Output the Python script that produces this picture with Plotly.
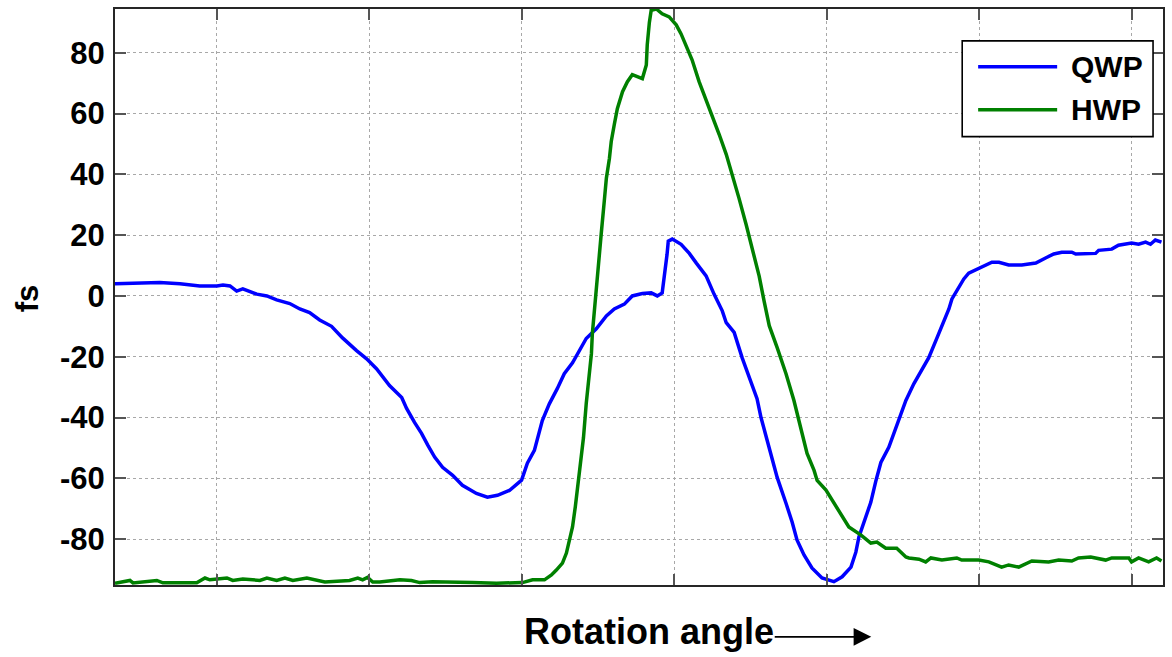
import plotly.graph_objects as go

# Rotation angle samples (arbitrary angular units) and measured fs for each waveplate
qwp_angle = [
    16.6, 31.3, 37.9, 44.4, 50.0, 52.0, 54.3, 56.5, 58.5, 63.1,
    66.4, 69.6, 73.9, 77.2, 80.4, 83.7, 87.6, 91.2, 95.8, 99.1,
    102.4, 106.6, 110.6, 112.2, 114.8, 117.1, 119.1, 121.4, 124.0, 127.3,
    130.5, 135.1, 138.7, 142.0, 145.9, 149.9, 151.8, 154.1, 156.7, 159.0,
    161.6, 163.9, 166.6, 168.8, 171.1, 174.4, 177.7, 180.3, 183.6, 186.2,
    189.5, 192.4, 194.4, 196.0, 196.7, 197.6, 198.0, 199.3, 202.2, 204.9,
    207.2, 210.4, 213.0, 215.7, 217.0, 219.6, 222.2, 225.2, 227.1, 228.4,
    231.1, 233.7, 236.6, 238.6, 240.2, 242.5, 245.1, 248.4, 252.3, 255.0,
    257.9, 259.5, 260.5, 262.2, 264.4, 266.1, 267.7, 270.3, 273.0, 275.9,
    278.5, 281.1, 283.4, 286.1, 287.4, 289.0, 290.0, 291.0, 292.6, 294.9,
    296.5, 299.8, 304.1, 306.4, 309.6, 313.9, 318.5, 321.7, 324.4, 327.0,
    330.3, 331.6, 335.8, 338.1, 339.1, 343.4, 345.6, 349.9, 352.2, 354.5,
    356.1, 357.7, 359.7,
]
qwp_fs = [
    4.0, 4.4, 4.0, 3.3, 3.3, 3.6, 3.3, 1.6, 2.3, 0.6,
    0.0, -1.3, -2.5, -4.3, -5.5, -7.9, -10.0, -13.8, -18.0, -20.7,
    -24.0, -29.5, -33.4, -37.0, -41.6, -45.2, -49.0, -53.0, -56.4, -59.0,
    -62.3, -65.0, -66.2, -65.6, -64.0, -60.6, -55.0, -50.8, -41.0, -35.5,
    -30.5, -25.6, -22.0, -18.0, -14.0, -10.8, -6.6, -4.3, -2.7, 0.0,
    0.8, 1.0, 0.0, 1.0, 6.0, 13.7, 18.0, 18.7, 17.0, 14.0,
    10.8, 6.6, 0.6, -4.9, -8.8, -12.0, -20.3, -29.0, -33.8, -40.0,
    -49.8, -59.7, -68.2, -74.4, -80.3, -85.2, -89.5, -92.8, -94.0, -92.4,
    -89.2, -84.3, -79.3, -74.4, -67.9, -60.7, -54.8, -49.8, -42.0, -34.4,
    -28.9, -24.6, -20.3, -13.8, -10.5, -7.2, -4.3, -1.0, 1.6, 5.6,
    7.5, 9.2, 11.1, 11.1, 10.2, 10.2, 10.8, 12.5, 13.8, 14.4,
    14.4, 13.8, 14.0, 14.0, 15.0, 15.4, 16.7, 17.4, 17.0, 17.7,
    17.0, 18.4, 17.7,
]

hwp_angle = [
    16.6, 21.5, 22.5, 30.3, 32.3, 43.4, 46.1, 47.7, 53.3, 55.2,
    58.5, 64.1, 66.4, 69.6, 72.3, 74.9, 79.5, 82.7, 85.4, 93.5,
    96.2, 97.8, 99.4, 101.1, 103.4, 110.0, 113.8, 116.5, 120.7, 133.8,
    141.7, 150.2, 153.5, 157.4, 159.7, 161.3, 163.3, 164.6, 165.6, 166.6,
    167.5, 168.5, 169.5, 170.2, 171.1, 171.8, 172.8, 173.1, 174.4, 175.4,
    176.0, 177.0, 177.7, 178.7, 179.3, 180.3, 181.3, 183.0, 184.6, 186.2,
    187.8, 189.5, 190.8, 191.1, 191.8, 192.4, 194.1, 196.0, 198.3, 200.6,
    202.2, 204.2, 205.8, 208.1, 210.4, 212.4, 214.7, 217.0, 219.0, 221.2,
    223.5, 225.5, 227.8, 229.4, 231.1, 233.7, 236.6, 239.2, 241.5, 243.5,
    245.8, 246.8, 249.7, 252.3, 255.0, 257.2, 261.2, 264.4, 266.4, 269.3,
    272.9, 275.9, 276.9, 280.2, 282.4, 284.1, 287.7, 292.6, 294.2, 299.8,
    303.1, 307.3, 309.6, 312.9, 317.2, 322.7, 326.0, 330.3, 332.5, 336.5,
    341.4, 343.4, 349.0, 349.9, 352.2, 355.5, 358.1, 359.7,
]
hwp_fs = [
    -94.5, -93.6, -94.4, -93.6, -94.4, -94.4, -92.8, -93.4, -92.8, -93.6,
    -93.1, -93.6, -92.8, -93.6, -92.8, -93.6, -92.8, -93.6, -94.1, -93.6,
    -92.8, -93.4, -92.6, -94.1, -94.1, -93.4, -93.6, -94.3, -94.0, -94.3,
    -94.5, -94.3, -93.4, -93.4, -91.8, -90.2, -87.9, -84.6, -80.3, -76.0,
    -69.5, -60.7, -53.0, -46.6, -35.4, -28.9, -19.0, -12.5, 1.0, 11.5,
    20.3, 31.0, 38.7, 45.2, 50.8, 56.4, 61.6, 67.2, 70.5, 72.8,
    72.1, 71.5, 76.0, 82.6, 90.0, 94.0, 94.4, 92.8, 91.8, 89.2,
    86.2, 81.3, 77.7, 70.5, 64.6, 59.7, 53.1, 46.6, 40.0, 32.1,
    23.6, 15.7, 6.5, -1.6, -9.8, -17.0, -25.6, -34.4, -44.3, -51.8,
    -57.4, -60.7, -63.9, -68.2, -72.8, -76.0, -78.7, -81.3, -81.0, -83.0,
    -83.0, -85.9, -86.2, -86.6, -87.5, -86.2, -86.9, -86.2, -86.9, -86.9,
    -87.5, -89.2, -88.5, -89.2, -87.2, -87.5, -86.9, -87.2, -86.2, -85.9,
    -86.9, -86.2, -86.2, -87.5, -86.2, -87.5, -86.2, -87.2,
]

assert len(qwp_angle) == len(qwp_fs)
assert len(hwp_angle) == len(hwp_fs)

series_names = ["QWP", "HWP"]
series_colors = ["#0000ff", "#008000"]

x_range = [16.6, 360.2]
y_range = [-95.1, 94.4]
y_ticks = [-80, -60, -40, -20, 0, 20, 40, 60, 80]
y_tick_labels = ["-80", "-60", "-40", "-20", "0", "20", "40", "60", "80"]

FONT = "Liberation Sans, Arial, Helvetica, sans-serif"
AXIS_COLOR = "#262626"

fig = go.Figure()
for name, color, xs, ys in zip(series_names, series_colors,
                               [qwp_angle, hwp_angle], [qwp_fs, hwp_fs]):
    fig.add_trace(go.Scatter(x=xs, y=ys, mode="lines", name=name,
                             line=dict(color=color, width=3.5),
                             showlegend=False))

fig.update_layout(
    width=1172, height=657,
    margin=dict(l=115, r=8, t=7, b=72),
    paper_bgcolor="white", plot_bgcolor="white",
    font=dict(family=FONT, color="black"),
)

fig.update_xaxes(
    range=x_range, tick0=50, dtick=50, showticklabels=False,
    ticks="inside", ticklen=11, tickwidth=1.5, tickcolor="#555555",
    showline=True, linecolor=AXIS_COLOR, linewidth=2, mirror="allticks",
    showgrid=True, gridcolor="#a8a8a8", gridwidth=1, griddash="dot",
    zeroline=False,
)
fig.update_yaxes(
    range=y_range, tickvals=y_ticks, ticktext=y_tick_labels,
    ticks="inside", ticklen=11, tickwidth=1.5, tickcolor="#555555",
    tickfont=dict(family=FONT, size=31, weight="bold", color="black"),
    ticklabelstandoff=2,
    showline=True, linecolor=AXIS_COLOR, linewidth=2, mirror="allticks",
    showgrid=True, gridcolor="#a8a8a8", gridwidth=1, griddash="dot",
    zeroline=False,
)

# Axis titles
fig.add_annotation(text="fs", xref="paper", yref="paper", x=-0.0834, y=0.497,
                   xanchor="center", yanchor="middle", textangle=-90,
                   showarrow=False,
                   font=dict(family=FONT, size=31, weight="bold", color="black"))
fig.add_annotation(text="Rotation angle", xref="paper", yref="paper",
                   x=0.5095, y=-0.0813, xanchor="center", yanchor="middle",
                   showarrow=False,
                   font=dict(family=FONT, size=36, weight="bold", color="black"))
fig.add_annotation(text="", xref="paper", yref="paper", x=0.7216, y=-0.090,
                   ax=-98, ay=0, showarrow=True, arrowhead=2, arrowsize=2.2,
                   arrowwidth=1.6, arrowcolor="black", standoff=0)

# Legend box
fig.add_shape(type="rect", xref="paper", yref="paper",
              x0=0.8084, x1=0.9905, y0=0.7785, y1=0.9446,
              fillcolor="white", line=dict(color="black", width=1.6),
              layer="above")
legend_rows_y = [0.8997, 0.8253]
for name, color, ly in zip(series_names, series_colors, legend_rows_y):
    fig.add_shape(type="line", xref="paper", yref="paper",
                  x0=0.8236, x1=0.8990, y0=ly, y1=ly,
                  line=dict(color=color, width=3.5), layer="above")
    fig.add_annotation(text=name, xref="paper", yref="paper", x=0.9104, y=ly,
                       xanchor="left", yanchor="middle", showarrow=False,
                       font=dict(family=FONT, size=30, weight="bold",
                                 color="black"))

fig.write_html("out.html")
